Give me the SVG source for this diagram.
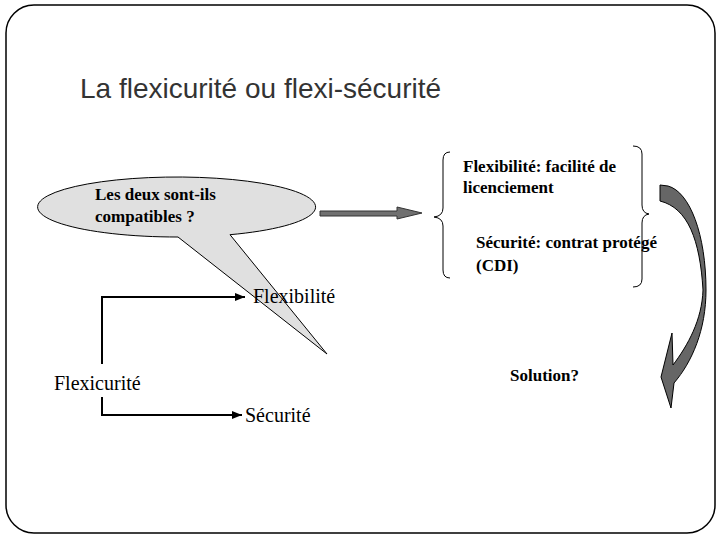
<svg xmlns="http://www.w3.org/2000/svg" width="720" height="540" viewBox="0 0 720 540">
<defs>
<style>
.title{font-family:"Liberation Sans",Arial,sans-serif;font-size:28px;fill:#333}
.b{font-family:"Liberation Serif","Times New Roman",serif;font-size:17px;font-weight:bold;fill:#000}
.r{font-family:"Liberation Serif","Times New Roman",serif;font-size:20px;fill:#000}
.conn{fill:none;stroke:#000;stroke-width:2}
.brace{fill:none;stroke:#000;stroke-width:1}
</style>
<marker id="ah" markerUnits="userSpaceOnUse" markerWidth="10" markerHeight="8" refX="10" refY="4" orient="auto">
<path d="M0,0 L10,4 L0,8 Z" fill="#000"/>
</marker>
</defs>
<rect x="0" y="0" width="720" height="540" fill="#fff"/>
<rect id="frame" x="6" y="5" width="709" height="528" rx="28" fill="none" stroke="#000" stroke-width="1.5"/>
<text class="title" x="80" y="98">La flexicurité ou flexi-sécurité</text>

<g id="callout">
<path d="M178,237 L327,354 L230,234.7 A139,30 0 1 0 178,237 Z" fill="#e0e0e0" stroke="#000" stroke-width="1"/>
<text class="b" x="95" y="200">Les deux sont-ils</text>
<text class="b" x="95" y="222">compatibles ?</text>
</g>

<g id="blockarrow">
<path d="M320,211 L397,211 L397,207 L422,213 L397,219 L397,216 L320,216 Z" fill="#707070" stroke="#333" stroke-width="1"/>
</g>

<g id="definitions">
<path class="brace" d="M450,152 Q443,152 443,160 L443,208 Q443,216 434,217 Q443,218 443,226 L443,270 Q443,278 450,278"/>
<path class="brace" d="M633,146 Q642,146 642,154 L642,205 Q642,213 649,214 Q642,215 642,223 L642,279 Q642,287 633,287"/>
<text class="b" x="463" y="172">Flexibilité: facilité de</text>
<text class="b" x="463" y="193">licenciement</text>
<text class="b" x="476" y="248">Sécurité: contrat protégé</text>
<text class="b" x="476" y="271">(CDI)</text>
</g>

<g id="curvedarrow">
<path d="M660,185 L668,186 C690,192 706,235 706,290 C706,330 692,362 674,383 L671,408 L661,377 L672,333 L673,365 C688,345 702,320 703,290 C700,240 688,208 660,201 Z" fill="#666" stroke="#000" stroke-width="1"/>
</g>

<g id="solution">
<text class="b" x="510" y="381">Solution?</text>
</g>

<g id="flexicurite">
<text class="r" x="54" y="390">Flexicurité</text>
</g>
<g id="flexibilite">
<text class="r" x="253" y="303">Flexibilité</text>
</g>
<g id="securite">
<text class="r" x="245" y="422">Sécurité</text>
</g>

<g id="connectors">
<path class="conn" d="M102,364 L102,297 L245,297" marker-end="url(#ah)"/>
<path class="conn" d="M102,397 L102,415 L242,415" marker-end="url(#ah)"/>
</g>
</svg>
